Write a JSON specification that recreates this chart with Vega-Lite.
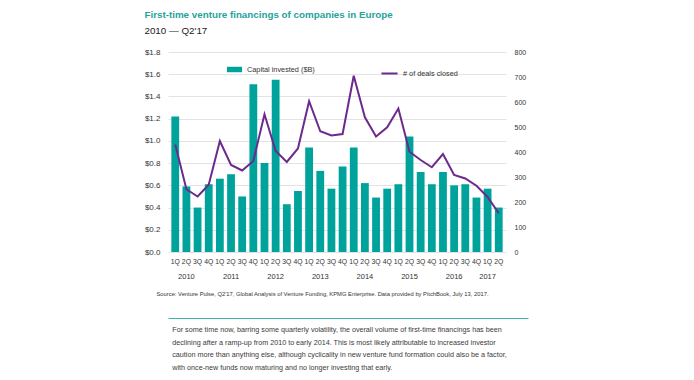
{
  "$schema": "https://vega.github.io/schema/vega-lite/v6.json",
  "padding": {"left": 144, "top": 10, "right": 5, "bottom": 0},
  "background": "white",
  "bounds": "flush",
  "spacing": 66,
  "config": {
    "font": "Liberation Sans",
    "view": {"stroke": null},
    "axis": {"labelColor": "#333333", "domain": false, "ticks": false, "labelFont": "Liberation Sans"}
  },
  "title": {
    "text": "First-time venture financings of companies in Europe",
    "subtitle": "2010 — Q2'17",
    "anchor": "start",
    "frame": "bounds",
    "color": "#1fa39c",
    "fontSize": 9.8,
    "fontWeight": "bold",
    "subtitleColor": "#222222",
    "subtitleFontSize": 9.8,
    "subtitlePadding": 6,
    "offset": 12
  },
  "datasets": {
    "q": [
      {"p": "2010 1Q", "capital": 1.22, "deals": 430},
      {"p": "2010 2Q", "capital": 0.59, "deals": 251},
      {"p": "2010 3Q", "capital": 0.40, "deals": 222},
      {"p": "2010 4Q", "capital": 0.61, "deals": 269},
      {"p": "2011 1Q", "capital": 0.66, "deals": 444},
      {"p": "2011 2Q", "capital": 0.70, "deals": 348},
      {"p": "2011 3Q", "capital": 0.50, "deals": 326},
      {"p": "2011 4Q", "capital": 1.51, "deals": 364},
      {"p": "2012 1Q", "capital": 0.80, "deals": 551},
      {"p": "2012 2Q", "capital": 1.55, "deals": 404},
      {"p": "2012 3Q", "capital": 0.43, "deals": 360},
      {"p": "2012 4Q", "capital": 0.55, "deals": 414},
      {"p": "2013 1Q", "capital": 0.94, "deals": 603},
      {"p": "2013 2Q", "capital": 0.73, "deals": 483},
      {"p": "2013 3Q", "capital": 0.57, "deals": 466},
      {"p": "2013 4Q", "capital": 0.77, "deals": 472},
      {"p": "2014 1Q", "capital": 0.94, "deals": 705},
      {"p": "2014 2Q", "capital": 0.62, "deals": 539},
      {"p": "2014 3Q", "capital": 0.49, "deals": 462},
      {"p": "2014 4Q", "capital": 0.57, "deals": 499},
      {"p": "2015 1Q", "capital": 0.61, "deals": 574},
      {"p": "2015 2Q", "capital": 1.04, "deals": 401},
      {"p": "2015 3Q", "capital": 0.72, "deals": 368},
      {"p": "2015 4Q", "capital": 0.61, "deals": 339},
      {"p": "2016 1Q", "capital": 0.72, "deals": 392},
      {"p": "2016 2Q", "capital": 0.60, "deals": 308},
      {"p": "2016 3Q", "capital": 0.61, "deals": 294},
      {"p": "2016 4Q", "capital": 0.49, "deals": 265},
      {"p": "2017 1Q", "capital": 0.57, "deals": 220},
      {"p": "2017 2Q", "capital": 0.40, "deals": 155}
    ],
    "para": [
      {"line": 1, "text": "For some time now, barring some quarterly volatility, the overall volume of first-time financings has been"},
      {"line": 2, "text": "declining after a ramp-up from 2010 to early 2014. This is most likely attributable to increased investor"},
      {"line": 3, "text": "caution more than anything else, although cyclicality in new venture fund formation could also be a factor,"},
      {"line": 4, "text": "with once-new funds now maturing and no longer investing that early."}
    ]
  },
  "vconcat": [
    {
      "width": 338,
      "height": 200,
      "data": {"name": "q"},
      "layer": [
        {
          "mark": {"type": "bar"},
          "encoding": {
            "x": {
              "field": "p", "type": "ordinal", "sort": null,
              "scale": {"paddingInner": 0.3, "paddingOuter": 0.3},
              "axis": {
                "title": null, "labelAngle": 0, "labelFontSize": 6.8, "labelPadding": 6,
                "labelOverlap": false, "labelExpr": "slice(datum.value, 5)"
              }
            },
            "y": {
              "field": "capital", "type": "quantitative",
              "scale": {"domain": [0, 1.8]},
              "axis": {
                "title": null, "values": [0, 0.2, 0.4, 0.6, 0.8, 1.0, 1.2, 1.4, 1.6, 1.8],
                "labelExpr": "'$' + format(datum.value, '.1f')",
                "labelFontSize": 8, "labelPadding": 8, "grid": true, "gridColor": "#e3e3e3"
              }
            },
            "fill": {
              "datum": "Capital invested ($B)",
              "scale": {"range": ["#00a39b"]},
              "legend": {
                "orient": "none", "legendX": 58, "legendY": 9, "title": null,
                "symbolType": "M-1,-0.36H1V0.36H-1Z", "symbolSize": 230,
                "labelFontSize": 7.3, "labelColor": "#333333", "symbolOpacity": 1
              }
            }
          }
        },
        {
          "mark": {"type": "line", "strokeWidth": 2},
          "encoding": {
            "x": {
              "field": "p", "type": "ordinal", "sort": null,
              "axis": {
                "title": "Source: Venture Pulse, Q2'17, Global Analysis of Venture Funding, KPMG Enterprise. Data provided by PitchBook, July 13, 2017.",
                "titleFontSize": 5.8, "titleFontWeight": "normal", "titleColor": "#333333",
                "titleAnchor": "start", "titleAlign": "left", "titleX": -12, "titlePadding": 11,
                "orient": "bottom", "offset": 18, "labelAngle": 0, "labelFontSize": 7.5,
                "labelOverlap": false, "labelDx": 5.6,
                "labelExpr": "((slice(datum.value, 5) == '2Q' && slice(datum.value, 0, 4) != '2017') || datum.value == '2017 1Q') ? slice(datum.value, 0, 4) : ''"
              }
            },
            "y": {
              "field": "deals", "type": "quantitative",
              "scale": {"domain": [0, 800]},
              "axis": {
                "orient": "right", "title": null, "grid": false,
                "values": [0, 100, 200, 300, 400, 500, 600, 700, 800],
                "labelFontSize": 7, "labelPadding": 8
              }
            },
            "stroke": {
              "datum": "# of deals closed",
              "scale": {"range": ["#6c2a8c"]},
              "legend": {
                "orient": "none", "legendX": 212, "legendY": 12, "title": null,
                "symbolType": "stroke", "symbolStrokeWidth": 2, "symbolSize": 260,
                "labelFontSize": 7.3, "labelColor": "#333333"
              }
            }
          }
        }
      ],
      "resolve": {"scale": {"y": "independent"}, "axis": {"x": "independent"}}
    },
    {
      "width": 360,
      "height": 62,
      "data": {"name": "para"},
      "mark": {"type": "text", "align": "left", "baseline": "middle", "fontSize": 7.2, "color": "#3a3a3a"},
      "encoding": {
        "x": {
          "datum": 0, "type": "quantitative",
          "scale": {"domain": [-0.012, 1]},
          "axis": {"orient": "top", "domain": true, "domainColor": "#3fb3ab", "domainWidth": 1.2, "labels": false, "ticks": false, "grid": false, "title": null}
        },
        "y": {"field": "line", "type": "ordinal", "scale": {"padding": 0.95}, "axis": null},
        "text": {"field": "text"}
      }
    }
  ]
}
